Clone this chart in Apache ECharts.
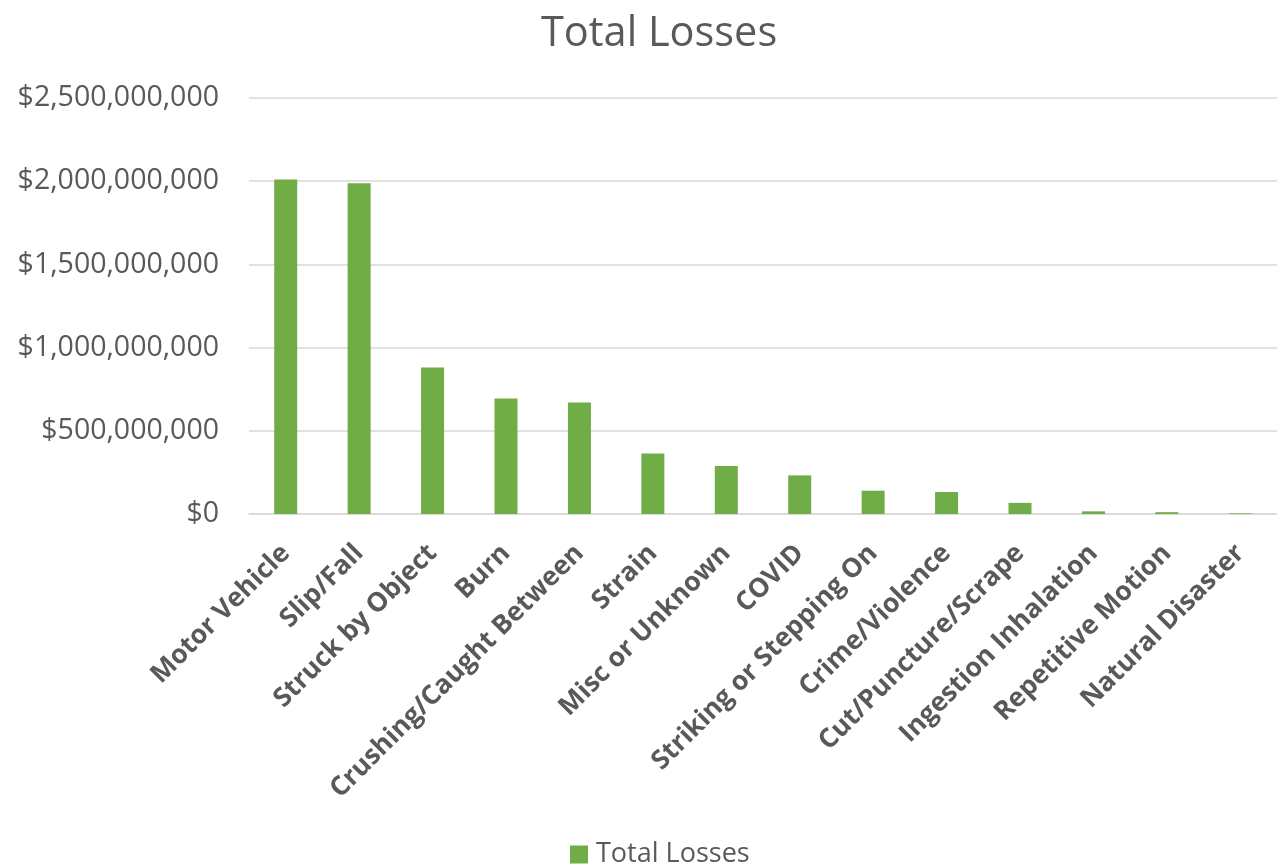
<!DOCTYPE html>
<html>
<head>
<meta charset="utf-8">
<script src="https://cdn.jsdelivr.net/npm/echarts@6/dist/echarts.min.js"></script>
<style>
  html, body { margin: 0; padding: 0; background: #fff; }
  #chart { width: 1277px; height: 866px; }
</style>
</head>
<body>
<div id="chart"></div>
<script>
// Loss categories, sorted by total losses
const categories = [
  'Motor Vehicle', 'Slip/Fall', 'Struck by Object', 'Burn',
  'Crushing/Caught Between', 'Strain', 'Misc or Unknown', 'COVID',
  'Striking or Stepping On', 'Crime/Violence', 'Cut/Puncture/Scrape',
  'Ingestion Inhalation', 'Repetitive Motion', 'Natural Disaster'
];

// Total losses in dollars per category
const totalLosses = [
  2010000000, 1988000000, 880000000, 694000000,
  670000000, 364000000, 288000000, 232000000,
  140000000, 132000000, 67000000,
  16000000, 11000000, 4000000
];

const seriesName = 'Total Losses';
const textColor = '#595959';
const fontFamily = '"Open Sans", "Liberation Sans", sans-serif';

const chart = echarts.init(document.getElementById('chart'), null, { renderer: 'canvas' });

chart.setOption({
  animation: false,
  backgroundColor: '#ffffff',
  textStyle: { fontFamily: fontFamily, color: textColor },
  title: {
    text: 'Total Losses',
    left: 536,
    top: 8,
    textStyle: { fontFamily: fontFamily, fontSize: 41.5, fontWeight: 'normal', color: textColor }
  },
  legend: {
    data: [seriesName],
    top: 841,
    left: 570,
    icon: 'rect',
    itemWidth: 18,
    itemHeight: 18,
    itemGap: 8,
    padding: 0,
    textStyle: { fontFamily: fontFamily, fontSize: 27, color: textColor, padding: [0, 0, 0, 3] }
  },
  grid: {
    left: 249,
    right: -4,
    top: 98,
    bottom: 352,
    containLabel: false
  },
  xAxis: {
    type: 'category',
    data: categories,
    axisLine: { show: true, lineStyle: { color: '#D9D9D9', width: 1.5 } },
    axisTick: { show: false },
    axisLabel: {
      interval: 0,
      rotate: 45,
      margin: 35,
      fontFamily: fontFamily,
      fontSize: 26.5,
      fontWeight: 'bold',
      color: textColor
    }
  },
  yAxis: {
    type: 'value',
    min: 0,
    max: 2500000000,
    interval: 500000000,
    axisLine: { show: false },
    axisTick: { show: false },
    splitLine: { lineStyle: { color: '#D9D9D9', width: 1.5 } },
    axisLabel: {
      margin: 30,
      fontFamily: fontFamily,
      fontSize: 28.5,
      color: textColor,
      formatter: function (v) {
        return '$' + Math.round(v).toString().replace(/\B(?=(\d{3})+(?!\d))/g, ',');
      }
    }
  },
  series: [{
    name: seriesName,
    type: 'bar',
    data: totalLosses,
    barWidth: 23,
    itemStyle: { color: '#70AD47' }
  }]
});
</script>
</body>
</html>
